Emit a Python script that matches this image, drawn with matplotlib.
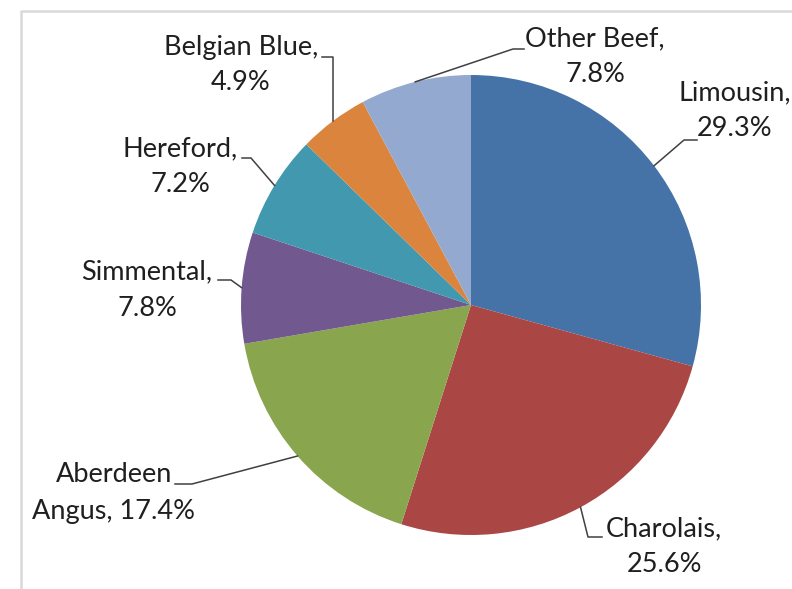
import numpy as np
import matplotlib
matplotlib.use("Agg")
import matplotlib.pyplot as plt

# ---- data ----
breeds = ["Limousin", "Charolais", "Aberdeen\nAngus", "Simmental", "Hereford", "Belgian Blue", "Other Beef"]
shares = [29.3, 25.6, 17.4, 7.8, 7.2, 4.9, 7.8]
colors = ["#4572A7", "#AA4643", "#89A54E", "#71588F", "#4198AF", "#DB843D", "#93A9CF"]
label_texts = ["Limousin,\n29.3%", "Charolais,\n25.6%", "Aberdeen\nAngus, 17.4%", "Simmental,\n7.8%",
               "Hereford,\n7.2%", "Belgian Blue,\n4.9%", "Other Beef,\n7.8%"]

W, H = 792, 589
def Y(y):
    return H - y

# layout (pixel positions, y measured from top)
text_pos = [(735, 111), (664, 547), (114, 493), (147, 290), (180, 167), (241, 65), (595, 57)]
leader_end = [(697, 140), (602, 537), (175, 484), (218, 280), (242, 158), (322, 57), (524, 49)]
leader_elbow = [(684, 140), (588, 537), (192, 484), (231, 280), (251, 158), (None, 57), (513, 49)]

plt.rcParams['font.family'] = ['Lato', 'DejaVu Sans']

fig = plt.figure(figsize=(W / 100, H / 100), dpi=100)
ax = fig.add_axes([0, 0, 1, 1])

cx, cy, R = 471, Y(305), 230
wedges, _ = ax.pie(shares, colors=colors, startangle=90, counterclock=False,
                   center=(cx, cy), radius=R, frame=True,
                   wedgeprops=dict(linewidth=0))

ax.set_xlim(0, W)
ax.set_ylim(0, H)
ax.set_aspect('equal')
ax.axis('off')

# frame
ax.plot([21, 21, W + 10], [-10, Y(11), Y(11)], color="#d9d9d9", lw=1.8, clip_on=False)

for i, w in enumerate(wedges):
    mid = np.deg2rad((w.theta1 + w.theta2) / 2)
    ex, ey = cx + R * np.cos(mid), cy + R * np.sin(mid)
    (tx, ty) = text_pos[i]
    (lx, ly) = leader_end[i]
    (bx, by) = leader_elbow[i]
    if bx is None:
        bx = ex
    ax.plot([lx, bx, ex], [Y(ly), Y(by), ey], color="#404040", lw=1.1, solid_joinstyle='round')
    ax.text(tx, Y(ty), label_texts[i], ha='center', va='center', multialignment='center',
            fontsize=19.5, color="#1f1f1f", linespacing=1.55)

fig.savefig("out.png", dpi=100)
